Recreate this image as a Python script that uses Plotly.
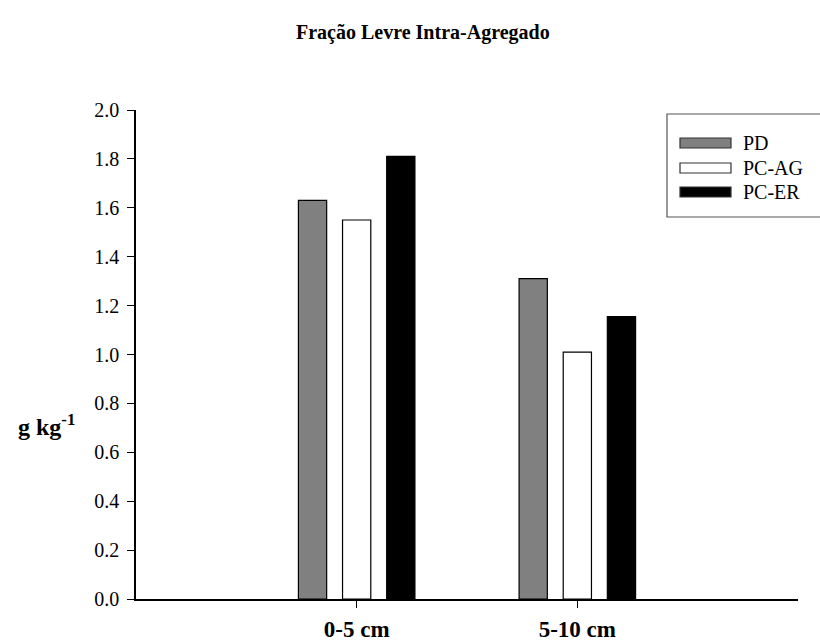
import plotly.graph_objects as go

categories = ["0-5 cm", "5-10 cm"]
series_names = ["PD", "PC-AG", "PC-ER"]
pd_values = [1.63, 1.31]
pcag_values = [1.55, 1.01]
pcer_values = [1.81, 1.155]
fill_colors = ["#808080", "#ffffff", "#000000"]
y_ticks = [0.0, 0.2, 0.4, 0.6, 0.8, 1.0, 1.2, 1.4, 1.6, 1.8, 2.0]

W, H = 820, 644
L, R, T, B = 136, 22, 110, 45
FONT = "Liberation Serif"

def px(xp):
    return (xp - L) / (W - L - R)

def py(yp):
    return (H - B - yp) / (H - T - B)

fig = go.Figure()
for name, vals, col in zip(series_names, [pd_values, pcag_values, pcer_values], fill_colors):
    fig.add_trace(go.Bar(
        x=list(range(len(categories))), y=vals, name=name,
        marker=dict(color=col, line=dict(color="#000000", width=1.2)),
        showlegend=False,
    ))

# custom legend (box + long swatches + text)
shapes = [dict(type="rect", xref="paper", yref="paper",
               x0=px(667), x1=px(835), y0=py(217), y1=py(114),
               line=dict(color="#555555", width=1.2), fillcolor="rgba(0,0,0,0)")]
annotations = []
row_y = [143, 168, 192]
for name, col, yy in zip(series_names, fill_colors, row_y):
    shapes.append(dict(type="rect", xref="paper", yref="paper",
                       x0=px(680), x1=px(731), y0=py(yy + 5), y1=py(yy - 5),
                       line=dict(color="#333333", width=1.2), fillcolor=col))
    annotations.append(dict(x=px(741), y=py(yy), xref="paper", yref="paper",
                            text=name, showarrow=False, xanchor="left", yanchor="middle",
                            font=dict(family=FONT, size=20, color="#000")))

annotations.append(dict(x=px(46), y=py(425), xref="paper", yref="paper",
                        text="<b>g kg<sup>-1</sup></b>", showarrow=False,
                        xanchor="center", yanchor="middle",
                        font=dict(family=FONT, size=24, color="#000")))
annotations.append(dict(x=px(423), y=py(32), xref="paper", yref="paper",
                        text="<b>Fração Levre Intra-Agregado</b>", showarrow=False,
                        xanchor="center", yanchor="middle",
                        font=dict(family=FONT, size=20, color="#000")))

fig.update_layout(
    width=W, height=H,
    margin=dict(l=L, r=R, t=T, b=B, pad=0, autoexpand=False),
    paper_bgcolor="white", plot_bgcolor="white",
    barmode="group", bargap=0.4, bargroupgap=0.36,
    shapes=shapes, annotations=annotations,
    showlegend=False,
)
fig.update_xaxes(
    range=[-1, 2], tickmode="array", tickvals=list(range(len(categories))),
    ticktext=["<b>%s</b>" % c for c in categories],
    showline=True, linecolor="#000", linewidth=1.5,
    ticks="outside", ticklen=7, tickcolor="#000", tickwidth=1,
    showgrid=False, zeroline=False, ticklabelstandoff=2, automargin=False,
    tickfont=dict(family=FONT, size=23, color="#000"),
)
fig.update_yaxes(
    range=[0, 2], tickmode="array", tickvals=y_ticks,
    ticktext=["%.1f" % v for v in y_ticks],
    showline=True, linecolor="#000", linewidth=1.5,
    ticks="outside", ticklen=7, tickcolor="#000", tickwidth=1,
    showgrid=False, zeroline=False, automargin=False, ticklabelstandoff=4,
    tickfont=dict(family=FONT, size=20, color="#000"),
)
fig.write_html("out.html")
